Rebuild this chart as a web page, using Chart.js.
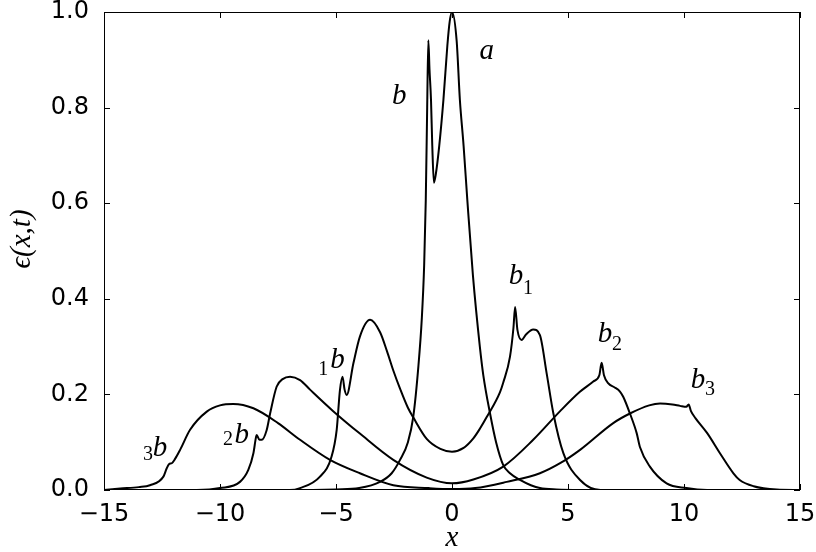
<!DOCTYPE html>
<html><head><meta charset="utf-8">
<script src="https://cdn.jsdelivr.net/npm/chart.js@4.4.1/dist/chart.umd.min.js"></script>
<style>html,body{margin:0;padding:0;background:#fff}</style>
</head><body>
<canvas id="c" width="816" height="552"></canvas>
<script>
// ---- axis ticks ----
const xTicks = [-15, -10, -5, 0, 5, 10, 15];
const yTicks = [0.0, 0.2, 0.4, 0.6, 0.8, 1.0];

// ---- curve t0 (labels a, b) ----
const curve0X = [-15, -6, -5, -4, -3.1, -2.6, -2.24, -1.9, -1.67, -1.45, -1.3, -1.2, -1.13, -1.07, -1.02, -0.97, -0.905, -0.85, -0.78, -0.7, -0.55, -0.37, -0.2, -0.1, 0, 0.2, 0.34, 0.5, 0.66, 0.9, 1.2, 1.35, 1.64, 1.9, 2.21, 2.5, 2.93, 3.4, 3.79, 4.5, 5.5, 15];
const curve0Y = [0, 0, 0.001, 0.004, 0.017, 0.035, 0.063, 0.1, 0.153, 0.258, 0.36, 0.47, 0.607, 0.8, 0.941, 0.88, 0.816, 0.72, 0.643, 0.66, 0.72, 0.816, 0.93, 0.98, 1.0, 0.94, 0.816, 0.72, 0.607, 0.45, 0.30, 0.24, 0.16, 0.1, 0.052, 0.035, 0.021, 0.01, 0.004, 0.001, 0, 0];

// ---- curve t1 (labels 1b, b1) ----
const curve1X = [-15, -7, -6.55, -5.69, -5.19, -4.97, -4.83, -4.72, -4.63, -4.54, -4.25, -3.97, -3.53, -3.1, -2.8, -2.53, -2.24, -1.9, -1.67, -1.09, -0.5, 0, 0.5, 0.92, 1.2, 1.49, 2.07, 2.21, 2.5, 2.65, 2.72, 2.82, 3.0, 3.2, 3.5, 3.79, 4.08, 4.37, 4.8, 5.52, 6.4, 15];
const curve1Y = [0, 0, 0.004, 0.028, 0.07, 0.126, 0.209, 0.237, 0.21, 0.199, 0.265, 0.321, 0.356, 0.33, 0.29, 0.25, 0.212, 0.172, 0.152, 0.107, 0.086, 0.08, 0.088, 0.108, 0.128, 0.152, 0.205, 0.225, 0.279, 0.34, 0.383, 0.335, 0.314, 0.326, 0.336, 0.324, 0.244, 0.16, 0.077, 0.021, 0, 0];

// ---- curve t2 (labels 2b, b2) ----
const curve2X = [-15, -11, -10, -9.14, -8.78, -8.56, -8.45, -8.42, -8.3, -8.2, -7.99, -7.84, -7.56, -7.3, -6.98, -6.55, -6.12, -5.12, -3.97, -2.53, -1.09, 0, 0.92, 2.21, 3.5, 4.66, 5.5, 6.09, 6.35, 6.45, 6.55, 6.74, 7.0, 7.24, 7.38, 7.67, 7.96, 8.1, 8.53, 9.25, 10.1, 11, 15];
const curve2Y = [0, 0, 0.004, 0.017, 0.042, 0.077, 0.11, 0.115, 0.105, 0.105, 0.125, 0.16, 0.216, 0.232, 0.237, 0.23, 0.21, 0.165, 0.118, 0.063, 0.026, 0.014, 0.022, 0.049, 0.105, 0.165, 0.205, 0.227, 0.24, 0.266, 0.24, 0.223, 0.215, 0.206, 0.195, 0.16, 0.119, 0.09, 0.049, 0.014, 0.004, 0, 0];

// ---- curve t3 (labels 3b, b3) ----
const curve3X = [-15, -14.3, -13.5, -13.02, -12.44, -12.3, -12.2, -12.08, -11.95, -11.72, -11.29, -10.57, -10, -9.43, -8.56, -7.5, -6.55, -5.26, -3.97, -2.53, -1, 0, 1, 2.36, 3.79, 4.66, 5.52, 6.95, 7.67, 8.5, 8.97, 9.5, 9.83, 10.1, 10.2, 10.3, 10.5, 11.0, 11.55, 12.13, 12.4, 13, 14, 15];
const curve3Y = [0, 0.003, 0.006, 0.01, 0.028, 0.045, 0.054, 0.056, 0.064, 0.084, 0.126, 0.164, 0.177, 0.18, 0.171, 0.14, 0.105, 0.063, 0.035, 0.01, 0.004, 0.002, 0.004, 0.017, 0.035, 0.056, 0.084, 0.14, 0.16, 0.177, 0.181, 0.179, 0.176, 0.174, 0.179, 0.165, 0.15, 0.119, 0.077, 0.035, 0.021, 0.008, 0.001, 0];

// ---- curve annotations (data units) ----
const annotations = [
  {text: 'a', x: 1.50, y: 0.917, sub: false},
  {text: 'b', x: -2.27, y: 0.824, sub: false},
  {text: '1', x: -5.55, y: 0.251, sub: true},
  {text: 'b', x: -4.94, y: 0.272, sub: false},
  {text: 'b', x: 2.76, y: 0.446, sub: false},
  {text: '1', x: 3.28, y: 0.42, sub: true},
  {text: 'b', x: 6.59, y: 0.326, sub: false},
  {text: '2', x: 7.11, y: 0.303, sub: true},
  {text: 'b', x: 10.6, y: 0.230, sub: false},
  {text: '3', x: 11.12, y: 0.209, sub: true},
  {text: '2', x: -9.66, y: 0.105, sub: true},
  {text: 'b', x: -9.06, y: 0.115, sub: false},
  {text: '3', x: -13.1, y: 0.073, sub: true},
  {text: 'b', x: -12.59, y: 0.088, sub: false}
];

function pts(xs, ys) { return xs.map((x, i) => ({x: x, y: ys[i]})); }
function fmtX(v) { return v < 0 ? '\u2212' + Math.abs(v) : String(v); }

const lineStyle = {showLine: true, borderColor: '#000', borderWidth: 2, pointRadius: 0, fill: false, cubicInterpolationMode: 'monotone'};

const framePlugin = {
  id: 'frame',
  afterDraw(chart) {
    const ctx = chart.ctx, a = chart.chartArea;
    const xs = chart.scales.x, ys = chart.scales.y;
    ctx.save();
    ctx.strokeStyle = '#000';
    ctx.lineWidth = 1;
    ctx.strokeRect(a.left + 0.5, a.top + 0.5, a.right - a.left - 1, a.bottom - a.top - 1);
    const L = 6;
    ctx.beginPath();
    xTicks.forEach(v => {
      const p = Math.round(xs.getPixelForValue(v)) + 0.5;
      ctx.moveTo(p, a.bottom); ctx.lineTo(p, a.bottom - L);
      ctx.moveTo(p, a.top); ctx.lineTo(p, a.top + L);
    });
    yTicks.forEach(v => {
      const p = Math.round(ys.getPixelForValue(v)) + 0.5;
      ctx.moveTo(a.left, p); ctx.lineTo(a.left + L, p);
      ctx.moveTo(a.right, p); ctx.lineTo(a.right - L, p);
    });
    ctx.stroke();
    // curve annotations
    ctx.fillStyle = '#000';
    ctx.textAlign = 'center';
    ctx.textBaseline = 'middle';
    annotations.forEach(t => {
      ctx.font = t.sub ? '20px "Liberation Serif"' : 'italic 29px "Liberation Serif"';
      ctx.fillText(t.text, xs.getPixelForValue(t.x), ys.getPixelForValue(t.y));
    });
    // axis titles
    ctx.font = 'italic 29px "Liberation Serif"';
    ctx.fillText('x', (a.left + a.right) / 2, 538);
    ctx.save();
    ctx.translate(22, (a.top + a.bottom) / 2 - 12);
    ctx.rotate(-Math.PI / 2);
    ctx.fillText('\u03F5(x,t)', 0, 0);
    ctx.restore();
    ctx.restore();
  }
};

new Chart(document.getElementById('c'), {
  type: 'scatter',
  data: {
    datasets: [
      Object.assign({label: 'a, b', data: pts(curve0X, curve0Y)}, lineStyle),
      Object.assign({label: '1b, b1', data: pts(curve1X, curve1Y)}, lineStyle),
      Object.assign({label: '2b, b2', data: pts(curve2X, curve2Y)}, lineStyle),
      Object.assign({label: '3b, b3', data: pts(curve3X, curve3Y)}, lineStyle)
    ]
  },
  options: {
    responsive: false,
    animation: false,
    devicePixelRatio: 1,
    layout: {padding: {left: 0, right: 16, top: 12, bottom: 0}},
    plugins: {legend: {display: false}, tooltip: {enabled: false}},
    scales: {
      x: {
        type: 'linear', min: -15, max: 15,
        afterBuildTicks: s => { s.ticks = xTicks.map(v => ({value: v})); },
        afterFit: s => { s.height = 62; s.paddingLeft = 0; s.paddingRight = 0; },
        grid: {display: false, drawTicks: false},
        border: {display: false},
        ticks: {color: '#000', font: {family: 'DejaVu Sans', size: 24}, padding: 10, maxRotation: 0, callback: v => fmtX(v)}
      },
      y: {
        type: 'linear', min: 0, max: 1,
        afterBuildTicks: s => { s.ticks = yTicks.map(v => ({value: v})); },
        afterFit: s => { s.width = 104; s.paddingTop = 0; s.paddingBottom = 0; },
        grid: {display: false, drawTicks: false},
        border: {display: false},
        ticks: {color: '#000', font: {family: 'DejaVu Sans', size: 24}, padding: 15, callback: v => v.toFixed(1)}
      }
    }
  },
  plugins: [framePlugin]
});
</script>
</body></html>
